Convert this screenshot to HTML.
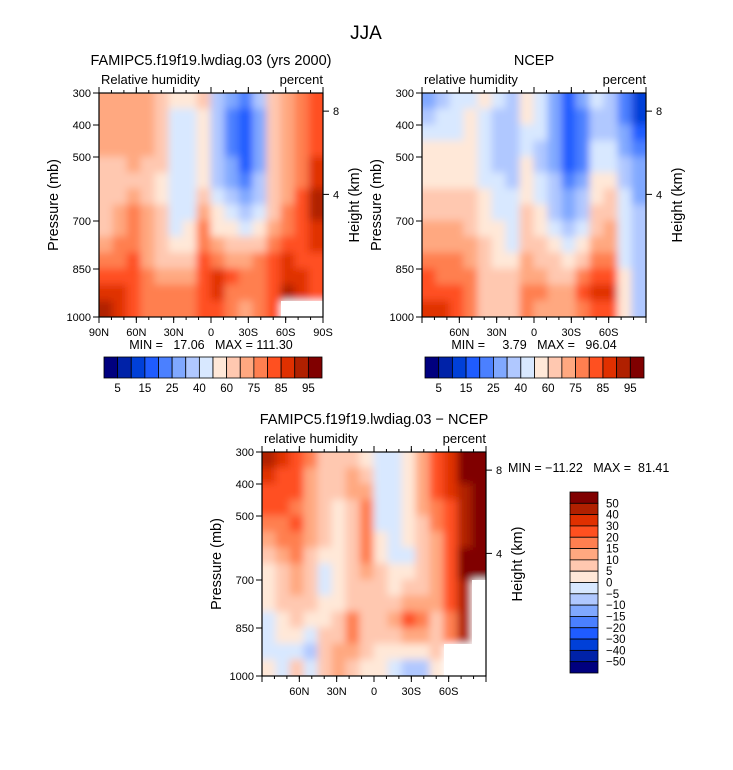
<!DOCTYPE html>
<html><head><meta charset="utf-8"><style>
html,body{margin:0;padding:0;background:#fff;}
svg{display:block;font-family:"Liberation Sans",sans-serif;}
text{white-space:pre;}
</style></head><body>
<svg id="c" width="733" height="770" viewBox="0 0 733 770" xmlns="http://www.w3.org/2000/svg">
<defs>
<filter id="bl" filterUnits="userSpaceOnUse" x="0" y="0" width="733" height="770"><feGaussianBlur stdDeviation="4"/></filter>
<clipPath id="cp1"><rect x="99" y="93" width="224" height="224"/></clipPath>
<clipPath id="cp2"><rect x="422" y="93" width="224" height="224"/></clipPath>
<clipPath id="cp3"><rect x="262" y="452" width="224" height="224"/></clipPath>
</defs>
<text x="366" y="39" font-size="19" text-anchor="middle">JJA</text>
</svg>
<script>
const palette=['#00007f','#0022a8','#0040d8','#1f5cff','#4b80ff','#80a8ff','#b0c8ff','#d8e8ff','#ffe8d8','#ffc8b0','#ffa880','#ff7f50','#ff5020','#e03000','#b02000','#800000'];
const latLabels=['90N','60N','30N','0','30S','60S','90S'];
const presLabels=['300','400','500','700','850','1000'];
const presValues=[300,400,500,700,850,1000];
const heightLabels=['8','4'];
const heightValues=[8,4];
const levelsAbs=['5','15','25','40','60','75','85','95'];
const levelsDiff=['50','40','30','20','15','10','5','0','\u22125','\u221210','\u221215','\u221220','\u221230','\u221240','\u221250'];
const grid1=[
[10,10,10,10,9,8,8,9,6,5,4,6,9,10,11,12],
[10,10,10,10,9,7,7,8,6,4,3,5,9,10,11,12],
[10,10,10,10,9,7,7,8,6,4,3,5,9,10,11,12],
[10,10,10,10,9,7,7,8,6,4,3,5,9,10,11,12],
[9,9,10,9,9,7,7,8,6,5,3,5,9,10,11,13],
[9,9,9,9,8,7,7,8,6,5,4,6,9,10,11,13],
[9,9,10,9,8,7,7,9,7,6,5,6,9,10,12,14],
[9,10,11,10,9,7,7,10,8,7,6,7,9,11,12,14],
[9,10,11,10,9,7,8,11,8,8,7,8,10,11,12,13],
[10,11,11,10,9,8,8,11,10,9,9,9,11,12,12,13],
[11,11,12,10,9,9,9,12,11,10,10,11,12,13,12,12],
[12,12,12,11,10,10,10,12,13,12,11,11,12,13,13,12],
[13,13,12,11,11,11,11,12,13,11,11,11,12,14,13,12],
[14,13,12,11,11,11,11,12,12,11,10,11,12,-1,-1,-1]];
const grid2=[
[5,6,7,7,8,7,6,8,7,5,3,5,7,6,4,2],
[6,7,7,8,7,6,6,8,7,5,3,4,6,6,4,2],
[7,7,7,8,7,6,6,7,7,5,3,4,6,6,5,3],
[8,8,8,8,7,6,6,7,6,5,3,4,7,7,5,4],
[8,8,8,8,7,6,6,8,6,5,3,4,7,7,6,5],
[8,8,8,8,7,7,6,8,7,6,4,5,8,8,6,5],
[9,9,9,9,8,7,7,8,7,6,5,6,8,9,7,5],
[9,9,9,9,8,7,7,9,8,6,5,6,9,9,7,6],
[10,10,10,9,8,8,7,9,8,7,6,7,9,10,7,6],
[10,10,10,10,9,8,7,9,9,8,7,8,10,10,7,6],
[11,11,11,10,9,8,8,10,9,9,8,9,11,11,7,6],
[12,11,11,11,9,9,9,10,10,9,9,11,12,12,8,6],
[12,12,12,11,9,9,9,11,11,10,10,12,13,13,8,6],
[13,13,12,11,9,9,9,11,10,10,10,11,12,12,8,6]];
const grid3=[
[14,13,12,11,9,9,9,8,7,7,8,10,12,13,15,15],
[13,12,12,10,9,9,10,9,7,7,8,10,12,13,15,15],
[12,12,12,10,9,9,10,10,7,7,8,10,12,13,14,15],
[12,12,11,10,9,8,9,11,7,7,8,10,11,12,14,15],
[11,11,12,10,9,8,9,11,7,7,8,9,11,12,14,15],
[10,11,11,10,9,8,9,11,8,7,8,9,10,12,14,15],
[9,10,11,9,8,8,9,11,8,7,7,9,10,12,15,15],
[8,9,10,9,7,8,9,10,9,8,8,9,10,12,15,15],
[8,9,10,9,7,8,9,9,9,8,9,9,10,12,14,-1],
[8,9,9,9,8,8,9,9,9,9,10,10,10,12,14,-1],
[7,8,9,8,8,9,11,9,9,10,12,11,9,11,14,-1],
[7,8,8,7,9,9,11,9,9,9,10,10,9,11,14,-1],
[7,7,7,6,9,10,10,9,8,8,8,8,9,-1,-1,-1],
[8,7,9,7,9,10,9,8,8,7,6,6,8,-1,-1,-1]];

const svg=document.getElementById('c');
const NS='http://www.w3.org/2000/svg';
function mk(tag,attrs,parent){const e=document.createElementNS(NS,tag);for(const k in attrs)e.setAttribute(k,attrs[k]);(parent||svg).appendChild(e);return e;}
function txt(x,y,s,size,anchor,parent){const t=mk('text',{x:x,y:y,'font-size':size,'text-anchor':anchor||'start'},parent);t.textContent=s;return t;}
function pY(p,y0,h){return y0+(p-300)/700*h;}
function zY(z,y0,h){const p=1013*Math.pow(1-0.0225*z,5.26);return pY(p,y0,h);}

function panel(P){
  const {x0,y0,w,h,grid,clip,title,sub,minmax,showEnds,tag}=P;
  const g=mk('g',{});
  
  
  const cg=mk('g',{'clip-path':'url(#'+clip+')'},g);
  const fg=mk('g',{filter:'url(#bl)'},cg);
  const rows=grid.length,cols=grid[0].length,cw=w/cols,ch=h/rows;
  const ext=14;
  grid.forEach((row,r)=>row.forEach((v,c)=>{
    let x=x0+c*cw-0.5,y=y0+r*ch-0.5,ww=cw+1,hh=ch+1;
    if(c===0){x-=ext;ww+=ext;} if(c===cols-1){ww+=ext;}
    if(r===0){y-=ext;hh+=ext;} if(r===rows-1){hh+=ext;}
    const cell=mk('rect',{x:x,y:y,width:ww,height:hh,fill:v<0?'#ffffff':palette[v]},fg);
    
    
  }));
  grid.forEach((row,r)=>row.forEach((v,c)=>{if(v<0){mk('rect',{x:x0+c*cw,y:y0+r*ch,width:cw+1,height:ch+1,fill:'#fff'},cg);}}));
  mk('rect',{x:x0,y:y0,width:w,height:h,fill:'none',stroke:'#000','stroke-width':1.2},g);
  latLabels.forEach((l,i)=>{
    const x=x0+i*w/6;
    mk('line',{x1:x,y1:y0+h,x2:x,y2:y0+h+6,stroke:'#000'},g);
    mk('line',{x1:x,y1:y0,x2:x,y2:y0-6,stroke:'#000'},g);
    if(showEnds||(i>0&&i<6)){const t=txt(x,y0+h+19,l,11,'middle',g);}
  });
  for(let i=0;i<18;i++){const x=x0+i*w/18;mk('line',{x1:x,y1:y0+h,x2:x,y2:y0+h+3,stroke:'#000'},g);mk('line',{x1:x,y1:y0,x2:x,y2:y0-3,stroke:'#000'},g);}
  presLabels.forEach((l,i)=>{const y=pY(presValues[i],y0,h);mk('line',{x1:x0-6,y1:y,x2:x0,y2:y,stroke:'#000'},g);const t=txt(x0-8,y+4,l,11,'end',g);});
  heightLabels.forEach((l,i)=>{const y=zY(heightValues[i],y0,h);mk('line',{x1:x0+w,y1:y,x2:x0+w+6,y2:y,stroke:'#000'},g);txt(x0+w+10,y+4,l,11,'start',g);});
  const yt=txt(0,0,'Pressure (mb)',14.5,'middle',g);yt.setAttribute('transform','translate('+(x0-41)+','+(y0+h/2)+') rotate(-90)');
  
  const ht=txt(0,0,'Height (km)',14.5,'middle',g);ht.setAttribute('transform','translate('+(x0+w+36)+','+(y0+h/2)+') rotate(-90)');
  
  const tt=txt(x0+w/2,y0-28,title,14.5,'middle',g);
  
  
  txt(x0+2,y0-9,sub,13,'start',g);
  txt(x0+w,y0-9,'percent',13,'end',g);
  if(minmax){const m=txt(x0+w/2,y0+h+32,minmax,12.5,'middle',g);}
}
panel({x0:99,y0:93,w:224,h:224,grid:grid1,clip:'cp1',title:'FAMIPC5.f19f19.lwdiag.03 (yrs 2000)',sub:'Relative humidity',minmax:'MIN =   17.06   MAX = 111.30',showEnds:true,tag:'model'});
panel({x0:422,y0:93,w:224,h:224,grid:grid2,clip:'cp2',title:'NCEP',sub:'relative humidity',minmax:'MIN =     3.79   MAX =   96.04',showEnds:false,tag:'ncep'});
panel({x0:262,y0:452,w:224,h:224,grid:grid3,clip:'cp3',title:'FAMIPC5.f19f19.lwdiag.03 \u2212 NCEP',sub:'relative humidity',minmax:null,showEnds:false,tag:'difference'});
txt(508,472,'MIN = \u221211.22   MAX =  81.41',12.5,'start');

function hbar(x0,y0,w,h,tag){
  const g=mk('g',{});
  
  
  const bw=w/16;
  palette.forEach((c,i)=>mk('rect',{x:x0+i*bw,y:y0,width:bw,height:h,fill:c,stroke:'#000','stroke-width':0.8},g));
  levelsAbs.forEach((l,i)=>txt(x0+(2*i+1)*bw,y0+h+14,l,11.5,'middle',g));
}
hbar(104,357,218,21,'model');
hbar(425,357,219,21,'ncep');
(function(){
  const g=mk('g',{});
  
  
  const x0=570,y0=492,w=28,h=181,bh=h/16;
  for(let i=0;i<16;i++)mk('rect',{x:x0,y:y0+i*bh,width:w,height:bh,fill:palette[15-i],stroke:'#000','stroke-width':0.8},g);
  levelsDiff.forEach((l,i)=>txt(x0+w+8,y0+(i+1)*bh+4,l,11.5,'start',g));
})();
</script>
</body></html>
